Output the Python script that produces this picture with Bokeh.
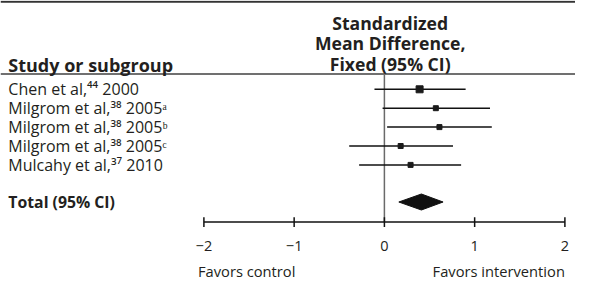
from bokeh.plotting import figure
from bokeh.models import Range1d, ColumnDataSource
from bokeh.core.properties import value
from bokeh.embed import file_html
from bokeh.resources import INLINE

# ---- data ----
studies = ["Chen et al,\u2074\u2074 2000",
           "Milgrom et al,\u00b3\u2078 2005\u1d43",
           "Milgrom et al,\u00b3\u2078 2005\u1d47",
           "Milgrom et al,\u00b3\u2078 2005\u1d9c",
           "Mulcahy et al,\u00b3\u2077 2010"]
smd = [0.39, 0.57, 0.61, 0.18, 0.29]
ci_low = [-0.11, -0.02, 0.03, -0.39, -0.28]
ci_high = [0.90, 1.17, 1.19, 0.76, 0.85]
weight_size = [7, 5, 5, 5, 5]
total_label = "Total (95% CI)"
total_est = 0.41
total_low = 0.16
total_high = 0.65
tick_values = [-2, -1, 0, 1, 2]
tick_labels = ["\u22122", "\u22121", "0", "1", "2"]
left_header = "Study or subgroup"
right_header_lines = ["Standardized", "Mean Difference,", "Fixed (95% CI)"]
favors_left = "Favors control"
favors_right = "Favors intervention"

FONT = "Open Sans"
TXT = "#231f20"

W, H = 575, 280
x0_px, px_per_unit = 383.9, 90.25
xs = -x0_px / px_per_unit
xe = (W - x0_px) / px_per_unit
x_text = xs + 7.8 / px_per_unit

p = figure(width=W, height=H, output_backend="svg", toolbar_location=None,
           x_range=Range1d(xs, xe), y_range=Range1d(H, 0),
           x_axis_type=None, y_axis_type=None, min_border=0)
p.outline_line_color = None
p.grid.visible = False
p.background_fill_color = "white"

row_y = [88.8 + i * 18.9 for i in range(len(studies))]
total_y = 201.5
axis_y = 221.6
tick_half = 4.8

# header rules
p.segment(x0=[xs, xs], x1=[xe, xe], y0=[1.2, 73.5], y1=[1.2, 73.5],
          line_color=["#333333", "#707070"], line_width=[2, 2])

# zero line
p.segment(x0=[0], x1=[0], y0=[74.5], y1=[axis_y], line_color="#6a6a6a", line_width=1.5)

src = ColumnDataSource(dict(study=studies, smd=smd, lo=ci_low, hi=ci_high,
                            y=row_y, size=weight_size, xl=[x_text] * len(studies)))
p.segment(x0="lo", x1="hi", y0="y", y1="y", source=src, line_color="#111111", line_width=1.5)
p.scatter(x="smd", y="y", size="size", marker="square", source=src,
          fill_color="#1a1a1a", line_color="#1a1a1a")
p.text(x="xl", y="y", text="study", source=src, text_font=value(FONT),
       text_font_size="16px", text_baseline="middle", text_align="left", text_color=TXT)

# total diamond
p.patch(x=[total_low, total_est, total_high, total_est],
        y=[total_y, total_y - 8, total_y, total_y + 8],
        fill_color="#111111", line_color="#111111")
p.text(x=[x_text], y=[total_y], text=[total_label], text_font=value(FONT),
       text_font_size="15.8px", text_font_style="bold", text_baseline="middle",
       text_color=TXT)

# headers
p.text(x=[x_text], y=[64], text=[left_header], text_font=value(FONT),
       text_font_size="18px", text_font_style="bold", text_baseline="alphabetic",
       text_color=TXT)
hx = (389.7 - x0_px) / px_per_unit
p.text(x=[hx] * 3, y=[22, 42.5, 63.5], text=right_header_lines, text_font=value(FONT),
       text_font_size="17.6px", text_font_style="bold", text_baseline="alphabetic",
       text_align="center", text_color=TXT)

# axis (drawn through the data scales)
p.segment(x0=[tick_values[0]], x1=[tick_values[-1]], y0=[axis_y], y1=[axis_y],
          line_color="#111111", line_width=1.5)
p.segment(x0=tick_values, x1=tick_values, y0=[axis_y - tick_half] * 5,
          y1=[axis_y + tick_half] * 5, line_color="#111111", line_width=1.5)
p.text(x=tick_values, y=[245] * 5, text=tick_labels, text_font=value(FONT),
       text_font_size="14.5px", text_baseline="middle", text_align="center", text_color=TXT)

p.text(x=[(197.5 - x0_px) / px_per_unit], y=[270], text=[favors_left], text_font=value(FONT),
       text_font_size="14.7px", text_baseline="middle", text_align="left", text_color=TXT)
p.text(x=[2.0], y=[270], text=[favors_right], text_font=value(FONT),
       text_font_size="14.7px", text_baseline="middle", text_align="right", text_color=TXT)

open("out.html", "w").write(file_html(p, INLINE))
